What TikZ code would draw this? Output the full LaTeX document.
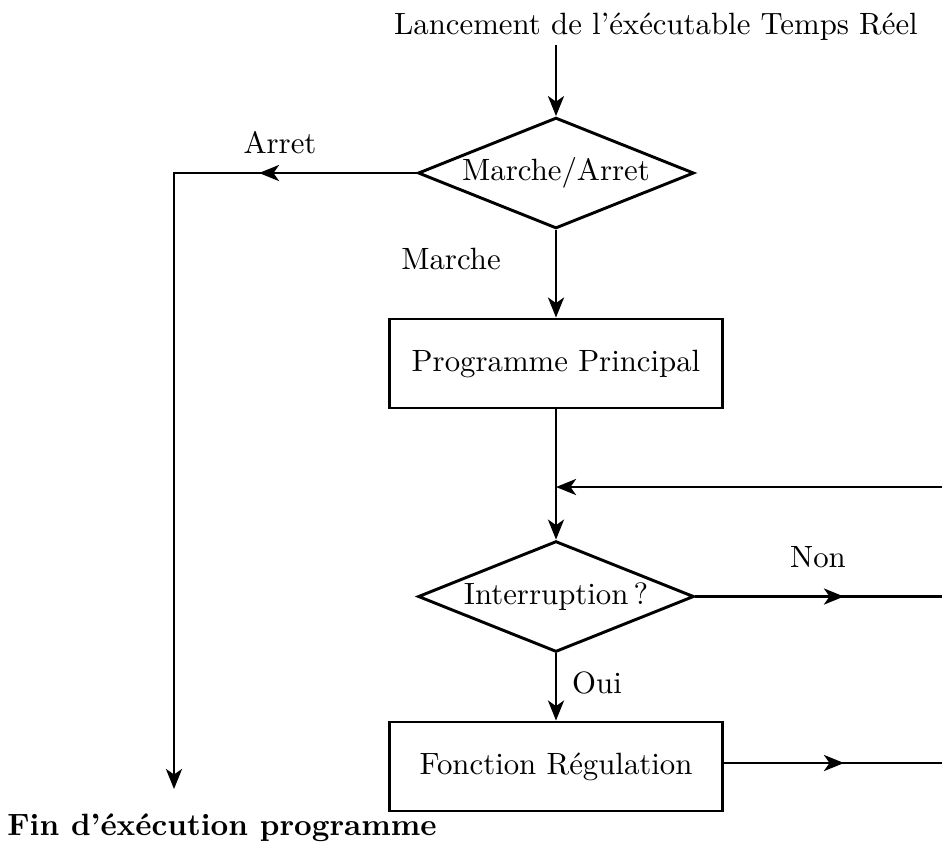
\documentclass[tikz,border=0pt]{standalone}
\usetikzlibrary{shapes.geometric,arrows.meta}
\begin{document}
\begin{tikzpicture}[x=0.3247pt,y=-0.3247pt,
  line width=0.95pt,
  tip/.style={-{Stealth[length=6.5pt,width=5.2pt,inset=1.8pt]}},
  decision/.style={draw,shape=diamond,inner sep=0pt,aspect=2.49,minimum width=89.6pt,minimum height=36pt},
  process/.style={draw,rectangle,minimum width=108.1pt,minimum height=28.9pt},
  lbl/.style={inner sep=0pt}]
\useasboundingbox (0,0) rectangle (942,846);
\node (title) at (656,27) {Lancement de l'éxécutable Temps Réel};
\node[decision] (d1) at (556,173) {Marche/Arret};
\node[process] (p1) at (556,363.5) {Programme Principal};
\node[decision] (d2) at (556,596.5) {Interruption\,?};
\node[process] (p2) at (556,766.5) {Fonction Régulation};

\node[lbl] (arret) at (280,143) {Arret};
\node[lbl] (marche) at (451,259) {Marche};
\node[lbl] (non) at (818,557) {Non};
\node[lbl] (oui) at (597,683) {Oui};
\node[lbl] (fin) at (222,828) {\bfseries Fin d'éxécution programme};

\coordinate (start) at (556,45);
\coordinate (corner) at (174,173);
\coordinate (finend) at (174,789);
\coordinate (arretmid) at (259,173);
\coordinate (loopR) at (942,487);
\coordinate (loopL) at (556,487);
\coordinate (nonmid) at (844,596.5);
\coordinate (nonR) at (942,596.5);
\coordinate (regmid) at (844,763);
\coordinate (regR) at (942,763);

\draw[tip] (start) -- (d1.north);
\draw[tip] (d1.west) -- (arretmid);
\draw[tip] (d1.west) -- (corner) -- (finend);
\draw[tip] (d1.south) -- (p1.north);
\draw[tip] (p1.south) -- (d2.north);
\draw[tip] (loopR) -- (loopL);
\draw[tip] (d2.east) -- (nonmid);
\draw (d2.east) -- (nonR);
\draw[tip] (d2.south) -- (p2.north);
\draw[tip] (p2.east |- regR) -- (regmid);
\draw (p2.east |- regR) -- (regR);
\end{tikzpicture}
\end{document}
